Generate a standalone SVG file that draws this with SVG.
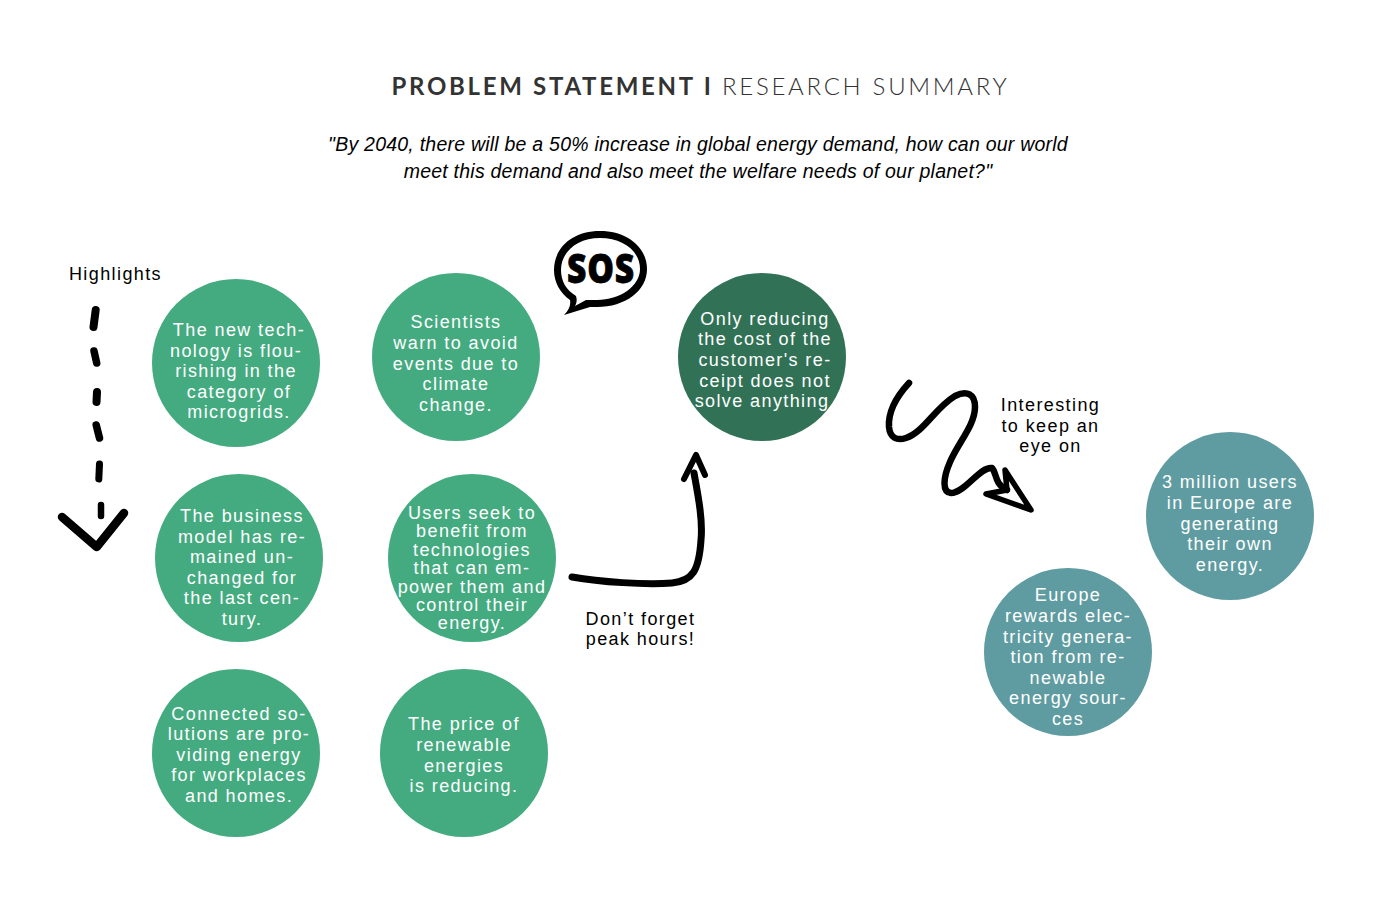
<svg xmlns="http://www.w3.org/2000/svg" width="1400" height="906" viewBox="0 0 1400 906">
<style>
text{font-family:"Liberation Sans",Arial,sans-serif}
.t{font-size:18px;letter-spacing:1.4px;text-anchor:middle;fill:#fff}
.l{font-size:18px;letter-spacing:1.4px;text-anchor:middle;fill:#000}
.g{fill:#44ab80}.d{fill:#317256}.b{fill:#5f9ca1}
.s{fill:none;stroke:#000;stroke-linecap:round;stroke-linejoin:round}
</style>
<rect width="1400" height="906" fill="#fff"/>
<text id="title" x="700.5" y="95" text-anchor="middle" style="font-family:Lato,sans-serif;font-size:24px;letter-spacing:2.7px;fill:#333"><tspan font-weight="700">PROBLEM STATEMENT I </tspan><tspan font-weight="300">RESEARCH SUMMARY</tspan></text>
<g font-style="italic" font-size="19.5" text-anchor="middle" fill="#000" letter-spacing="0.23">
<text x="698" y="151">"By 2040, there will be a 50% increase in global energy demand, how can our world</text>
<text x="698" y="178">meet this demand and also meet the welfare needs of our planet?"</text>
</g>
<g id="n1"><circle class="g" cx="236" cy="363" r="84"/><text class="t"><tspan x="239" y="336">The new tech-</tspan><tspan x="236" y="357">nology is flou-</tspan><tspan x="236" y="377">rishing in the</tspan><tspan x="239" y="398">category of</tspan><tspan x="239" y="418">microgrids.</tspan></text></g>
<g id="n2"><circle class="g" cx="456" cy="357" r="84"/><text class="t"><tspan x="456" y="328">Scientists</tspan><tspan x="456" y="349">warn to avoid</tspan><tspan x="456" y="370">events due to</tspan><tspan x="456" y="390">climate</tspan><tspan x="456" y="411">change.</tspan></text></g>
<g id="n3"><circle class="g" cx="239" cy="558" r="84"/><text class="t"><tspan x="242" y="522">The business</tspan><tspan x="242" y="543">model has re-</tspan><tspan x="242" y="563">mained un-</tspan><tspan x="242" y="584">changed for</tspan><tspan x="242" y="604">the last cen-</tspan><tspan x="242" y="625">tury.</tspan></text></g>
<g id="n4"><circle class="g" cx="472" cy="558" r="84"/><text class="t"><tspan x="472" y="519">Users seek to</tspan><tspan x="472" y="537">benefit from</tspan><tspan x="472" y="556">technologies</tspan><tspan x="472" y="574">that can em-</tspan><tspan x="472" y="593">power them and</tspan><tspan x="472" y="611">control their</tspan><tspan x="472" y="629">energy.</tspan></text></g>
<g id="n5"><circle class="g" cx="236" cy="753" r="84"/><text class="t"><tspan x="239" y="720">Connected so-</tspan><tspan x="239" y="740">lutions are pro-</tspan><tspan x="239" y="761">viding energy</tspan><tspan x="239" y="781">for workplaces</tspan><tspan x="239" y="802">and homes.</tspan></text></g>
<g id="n6"><circle class="g" cx="464" cy="753" r="84"/><text class="t"><tspan x="464" y="730">The price of</tspan><tspan x="464" y="751">renewable</tspan><tspan x="464" y="772">energies</tspan><tspan x="464" y="792">is reducing.</tspan></text></g>
<g id="n7"><circle class="d" cx="762" cy="357" r="84"/><text class="t"><tspan x="765" y="325">Only reducing</tspan><tspan x="765" y="345">the cost of the</tspan><tspan x="765" y="366">customer's re-</tspan><tspan x="765" y="387">ceipt does not</tspan><tspan x="762" y="407">solve anything</tspan></text></g>
<g id="n8"><circle class="b" cx="1230" cy="516" r="84"/><text class="t"><tspan x="1230" y="488">3 million users</tspan><tspan x="1230" y="509">in Europe are</tspan><tspan x="1230" y="530">generating</tspan><tspan x="1230" y="550">their own</tspan><tspan x="1230" y="571">energy.</tspan></text></g>
<g id="n9"><circle class="b" cx="1068" cy="652" r="84"/><text class="t"><tspan x="1068" y="601">Europe</tspan><tspan x="1068" y="622">rewards elec-</tspan><tspan x="1068" y="643">tricity genera-</tspan><tspan x="1068" y="663">tion from re-</tspan><tspan x="1068" y="684">newable</tspan><tspan x="1068" y="704">energy sour-</tspan><tspan x="1068" y="725">ces</tspan></text></g>
<g id="sos">
<path fill-rule="evenodd" fill="#000" d="M600 231C628 231 647 248 647 269C647 291 625 307 597 307L590 307L564 315C569 310 571 305 570 300C560 293 554 282 554 270C554 248 572 231 600 231ZM600 238C577 238 561 252 561 270C561 281 566 290 576 296C577 299 577 303 575 306L586 300L597 300C620 300 640 286 640 269C640 251 623 238 600 238Z"/>
<text transform="translate(601 283) scale(0.82 1)" text-anchor="middle" style="font-family:'Open Sans',sans-serif;font-weight:800;font-size:41px;letter-spacing:1px;fill:#000;stroke:#000;stroke-width:0.8">SOS</text>
</g>
<g id="labels">
<text class="l" x="115.5" y="280">Highlights</text>
<text class="l" x="640.5" y="625">Don’t forget</text>
<text class="l" x="640.5" y="645">peak hours!</text>
<text class="l" x="1050.5" y="411">Interesting</text>
<text class="l" x="1050.5" y="432">to keep an</text>
<text class="l" x="1050.5" y="452">eye on</text>
</g>
<g id="connectors">
<g class="s" stroke-width="8">
<path d="M95.7 310L93.5 327"/><path d="M94 351L96.7 363" stroke-width="7.5"/><path d="M97 392L96.5 402"/><path d="M96.2 425L99.5 438" stroke-width="7.5"/><path d="M99.5 464L98.8 479" stroke-width="7"/><path d="M101 505L101 516" stroke-width="6.5"/>
<path d="M62 517L96.7 547L124 513" stroke-width="8.5"/>
</g>
<path class="s" stroke-width="7" d="M572 577C600 582 645 585 672 583C693 581 699 570 701 540C703 520 698 495 694 473"/>
<path class="s" stroke-width="6" d="M684 479L696 455L705 475"/>
<path class="s" stroke-width="6.5" d="M909 383C897 396 888 412 889 427C890 438 897 441 906 438C924 432 935 408 955 396C967 390 975 394 975 407C975 425 958 443 950 462C943 478 942 492 951 493C965 493 980 466 992 468C997 473 994 484 1007 490"/>
<path class="s" stroke-width="5.5" d="M1005 470L1031 510L986 494L1007 490Z"/>
</g>
</svg>
